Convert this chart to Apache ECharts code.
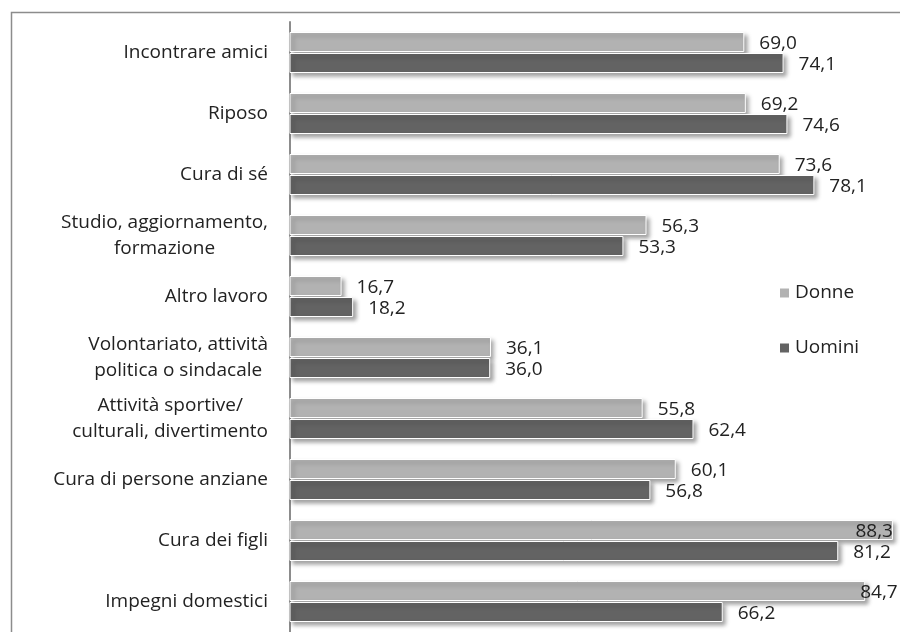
<!DOCTYPE html>
<html>
<head>
<meta charset="utf-8">
<script src="https://cdn.jsdelivr.net/npm/echarts@6/dist/echarts.min.js"></script>
<style>
  html, body { margin: 0; padding: 0; background: #ffffff; }
  #chart { width: 900px; height: 632px; }
</style>
</head>
<body>
<div id="chart"></div>
<script>
// Categories, top to bottom
const categories = [
  'Incontrare amici',
  'Riposo',
  'Cura di sé',
  'Studio, aggiornamento,\nformazione',
  'Altro lavoro',
  'Volontariato, attività\npolitica o sindacale',
  'Attività sportive/\nculturali, divertimento',
  'Cura di persone anziane',
  'Cura dei figli',
  'Impegni domestici'
];

// Percentages per group
const donne  = [69.0, 69.2, 73.6, 56.3, 16.7, 36.1, 55.8, 60.1, 88.3, 84.7];
const uomini = [74.1, 74.6, 78.1, 53.3, 18.2, 36.0, 62.4, 56.8, 81.2, 66.2];

const seriesNames = ['Donne', 'Uomini'];

const FONT = '"Open Sans", "Noto Sans", sans-serif';
const TEXT_COLOR = '#222222';

function fmt(v) {
  return v.toFixed(1).replace('.', ',');
}

// Labels near the right border are pulled back inside the plot
function labelFor(v) {
  if (v >= 88) return { position: 'insideRight', distance: 0, offset: [0, 2] };
  if (v >= 84) return { position: 'right', offset: [-20, 2] };
  return {};
}

function buildData(values) {
  return values.map(v => ({ value: v, label: labelFor(v) }));
}

const barStyle = (color) => ({
  color: color,
  borderColor: '#ffffff',
  borderWidth: 1,
  shadowColor: 'rgba(0,0,0,0.35)',
  shadowBlur: 4,
  shadowOffsetX: 3,
  shadowOffsetY: 3
});

const baseLabel = {
  show: true,
  position: 'right',
  distance: 15,
  offset: [0, 2],
  color: TEXT_COLOR,
  fontFamily: FONT,
  fontSize: 19,
  formatter: p => fmt(p.value)
};

const chart = echarts.init(document.getElementById('chart'), null, { renderer: 'canvas' });

chart.setOption({
  animation: false,
  backgroundColor: '#ffffff',
  textStyle: { fontFamily: FONT },
  graphic: [{
    type: 'rect',
    left: 9, top: 10,
    shape: { width: 920, height: 660 },
    style: { fill: 'none', stroke: '#8c8c8c', lineWidth: 1.5 },
    silent: true,
    z: -1
  }],
  grid: {
    left: 290, top: 22, width: 616, height: 610,
    containLabel: false,
    outerBoundsMode: 'none'
  },
  legend: {
    orient: 'vertical',
    left: 773,
    top: 278,
    itemWidth: 11,
    itemHeight: 11,
    itemGap: 35,
    icon: 'rect',
    textStyle: { color: TEXT_COLOR, fontFamily: FONT, fontSize: 19, lineHeight: 20 },
    data: seriesNames
  },
  xAxis: {
    type: 'value',
    min: 10,
    max: 90,
    show: false,
    splitLine: { show: false }
  },
  yAxis: {
    type: 'category',
    inverse: true,
    data: categories,
    axisLine: { show: true, lineStyle: { color: '#8c8c8c', width: 2 } },
    axisTick: { show: false },
    axisLabel: {
      margin: 22,
      align: 'right',
      color: TEXT_COLOR,
      fontFamily: FONT,
      fontSize: 19,
      lineHeight: 26,
      formatter: v => '{c|' + v.split('\n').join('}\n{c|') + '}',
      rich: {
        c: { align: 'center', color: TEXT_COLOR, fontFamily: FONT, fontSize: 19, lineHeight: 26 }
      }
    }
  },
  series: [
    {
      name: seriesNames[0],
      type: 'bar',
      data: buildData(donne),
      barWidth: 20,
      barGap: '5%',
      itemStyle: barStyle('#b2b2b2'),
      label: baseLabel
    },
    {
      name: seriesNames[1],
      type: 'bar',
      data: buildData(uomini),
      barWidth: 20,
      barGap: '5%',
      itemStyle: barStyle('#636363'),
      label: baseLabel
    }
  ]
});
</script>
</body>
</html>
